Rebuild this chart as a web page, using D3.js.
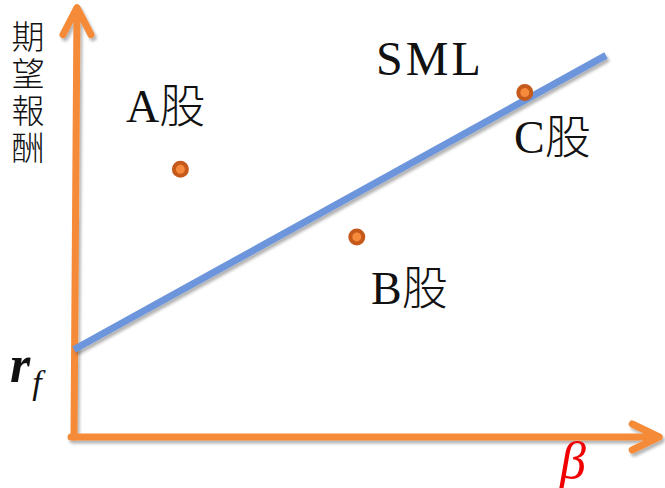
<!DOCTYPE html>
<html>
<head>
<meta charset="utf-8">
<script src="https://cdn.jsdelivr.net/npm/d3@7"></script>
<style>
  html, body { margin: 0; padding: 0; background: #fff; }
  svg { display: block; }
  .lbl { font-family: "Liberation Serif", "Noto Sans CJK TC", serif; font-weight: 300; fill: #111; }
</style>
</head>
<body>
<div id="chart"></div>
<script>
// Data (beta on x, expected return on y)
const smlBeta = [0, 1.9];
const smlReturn = [3.3, 14.4];
const stockNames = ['A股', 'B股', 'C股'];
const stockBeta = [0.38, 1.01, 1.61];
const stockReturn = [10.1, 7.55, 13.0];
const axisMax = [2.09, 16.2];   // where the arrow tips sit
const yTitleChars = ['期', '望', '報', '酬'];

const width = 665, height = 488;
const orange = '#f58a38', blue = '#6d95db';

const svg = d3.select('#chart').append('svg')
    .attr('width', width)
    .attr('height', height);

// soft shadow like the original slide
const defs = svg.append('defs');
defs.append('filter').attr('id', 'shadow')
    .attr('x', '-20%').attr('y', '-20%').attr('width', '140%').attr('height', '140%')
  .append('feDropShadow')
    .attr('dx', 2).attr('dy', 3).attr('stdDeviation', 1.8)
    .attr('flood-color', '#000').attr('flood-opacity', 0.3);

const x = d3.scaleLinear().domain([0, 2]).range([74, 634]);
const y = d3.scaleLinear().domain([0, 16]).range([437, 13]);

// Axes drawn as arrows
const axes = svg.append('g')
    .attr('fill', 'none')
    .attr('stroke', orange)
    .attr('stroke-width', 7)
    .attr('stroke-linecap', 'round')
    .attr('stroke-linejoin', 'round')
    .attr('filter', 'url(#shadow)');

const x0 = x(0), y0 = y(0);
const xTip = x(axisMax[0]), yTip = y(axisMax[1]);

axes.append('path')
    .attr('d', `M${x0},${y0} L${x0 + 3},${yTip + 2} M${x0 - 11},${yTip + 27} L${x0 + 3},${yTip} L${x0 + 17},${yTip + 27}`);
axes.append('path')
    .attr('d', `M${x0 - 3},${y0} L${xTip - 2},${y0} M${xTip - 27},${y0 - 13} L${xTip},${y0} L${xTip - 27},${y0 + 13}`);

// SML line
const line = d3.line()
    .x(d => x(d[0]))
    .y(d => y(d[1]));

svg.append('path')
    .datum(d3.zip(smlBeta, smlReturn))
    .attr('d', line)
    .attr('fill', 'none')
    .attr('stroke', blue)
    .attr('stroke-width', 7)
    .attr('filter', 'url(#shadow)');

// stocks
svg.append('g').selectAll('circle')
    .data(d3.zip(stockBeta, stockReturn))
    .join('circle')
    .attr('cx', d => x(d[0]))
    .attr('cy', d => y(d[1]))
    .attr('r', 6.5)
    .attr('fill', '#f68b3d')
    .attr('stroke', '#c55a1b')
    .attr('stroke-width', 4);

// labels
const labelPos = [[126, 122], [371, 304], [514, 153]];
svg.append('g').selectAll('text')
    .data(stockNames)
    .join('text')
    .attr('class', 'lbl')
    .attr('x', (d, i) => labelPos[i][0])
    .attr('y', (d, i) => labelPos[i][1])
    .attr('font-size', 46)
    .text(d => d);

svg.append('text')
    .attr('class', 'lbl')
    .attr('x', 376).attr('y', 75)
    .attr('font-size', 48)
    .attr('letter-spacing', 3)
    .text('SML');

// y title, stacked vertically
svg.append('g').selectAll('text')
    .data(yTitleChars)
    .join('text')
    .attr('class', 'lbl')
    .attr('x', 28)
    .attr('y', (d, i) => 49 + i * 37)
    .attr('text-anchor', 'middle')
    .attr('font-size', 33)
    .text(d => d);

// r_f
const rf = svg.append('text')
    .attr('font-family', '"Liberation Serif", serif')
    .attr('font-style', 'italic')
    .attr('fill', '#111')
    .attr('x', 10).attr('y', 382);
rf.append('tspan').attr('font-size', 52).attr('font-weight', 'bold').text('r');
rf.append('tspan').attr('font-size', 34).attr('dy', 12).attr('dx', 2).text('f');

// beta
svg.append('text')
    .attr('font-family', '"Liberation Serif", serif')
    .attr('font-style', 'italic')
    .attr('fill', '#f00000')
    .attr('font-size', 52)
    .attr('x', 560).attr('y', 478)
    .text('β');
</script>
</body>
</html>
